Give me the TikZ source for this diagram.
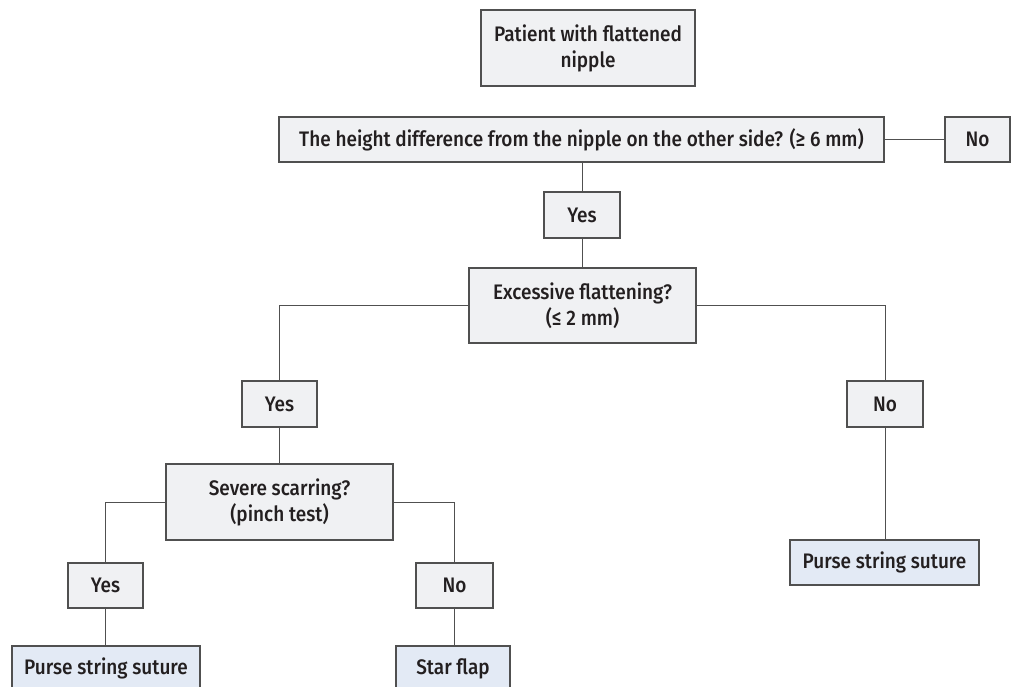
\documentclass[tikz,border=0pt]{standalone}
\usepackage{fontspec}
\setmainfont{Fira Sans}[FakeStretch=0.905, BoldFont={Fira Sans Medium}, BoldFeatures={FakeStretch=0.905}]
\definecolor{boxgray}{HTML}{F0F1F3}
\definecolor{boxblue}{HTML}{E3EAF5}
\definecolor{edge}{HTML}{505050}
\definecolor{ink}{HTML}{231F20}
\begin{document}
\begin{tikzpicture}[x=1pt,y=-1pt,
  every node/.style={font=\fontsize{21}{26}\selectfont\bfseries, text=ink, align=center, inner sep=0pt},
  qbox/.style={draw=edge, line width=1.1pt, fill=boxgray},
  abox/.style={draw=edge, line width=1.1pt, fill=boxblue},
  link/.style={draw=edge, line width=0.9pt}]
\useasboundingbox (0,0) rectangle (1011,687);
\node[qbox, minimum width=214pt, minimum height=76pt] (top) at (588,48) {Patient with flattened\\nipple};
\node[qbox, minimum width=605pt, minimum height=45pt] (q1) at (581.5,139.5) {The height difference from the nipple on the other side? (≥ 6 mm)};
\node[qbox, minimum width=65pt, minimum height=45pt] (no1) at (977.5,139.5) {No};
\node[qbox, minimum width=76pt, minimum height=46pt] (yes1) at (582,215) {Yes};
\node[qbox, minimum width=227pt, minimum height=75pt] (ex) at (582.5,305.5) {Excessive flattening?\\(≤ 2 mm)};
\node[qbox, minimum width=75pt, minimum height=46pt] (yes2) at (279.5,404) {Yes};
\node[qbox, minimum width=76pt, minimum height=46pt] (no2) at (885,404) {No};
\node[qbox, minimum width=227pt, minimum height=76pt] (sev) at (279.5,502) {Severe scarring?\\(pinch test)};
\node[qbox, minimum width=75pt, minimum height=45pt] (yes3) at (105.5,585.5) {Yes};
\node[qbox, minimum width=77pt, minimum height=45pt] (no3) at (454.5,585.5) {No};
\node[abox, minimum width=188pt, minimum height=45pt] (ps1) at (106,668.5) {Purse string suture};
\node[abox, minimum width=114pt, minimum height=45pt] (sf) at (453,668.5) {Star flap};
\node[abox, minimum width=189pt, minimum height=45pt] (ps2) at (884.5,562.5) {Purse string suture};
\draw[link] (q1.east) -- (no1.west);
\draw[link] (q1.south -| yes1.north) -- (yes1.north);
\draw[link] (yes1.south) -- (ex.north -| yes1.south);
\draw[link] (ex.west) -| (yes2.north);
\draw[link] (ex.east) -| (no2.north);
\draw[link] (yes2.south) -- (sev.north -| yes2.south);
\draw[link] (sev.west) -| (yes3.north);
\draw[link] (sev.east) -| (no3.north);
\draw[link] (yes3.south) -- (ps1.north -| yes3.south);
\draw[link] (no3.south) -- (sf.north -| no3.south);
\draw[link] (no2.south) -- (ps2.north -| no2.south);
\end{tikzpicture}
\end{document}
